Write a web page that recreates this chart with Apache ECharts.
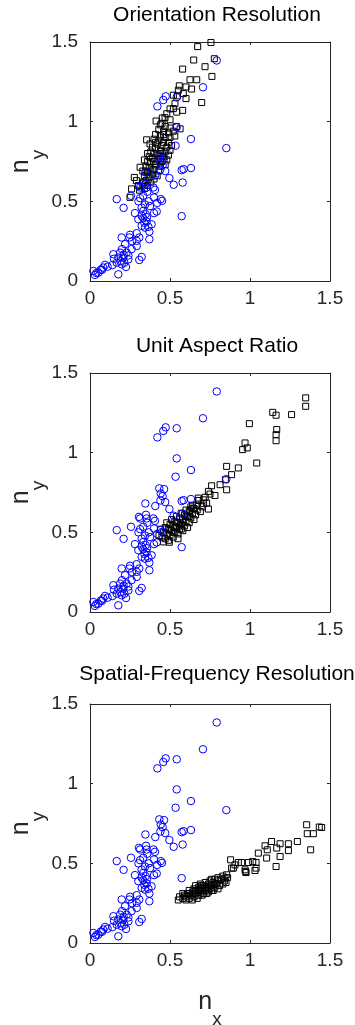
<!DOCTYPE html>
<html><head><meta charset="utf-8">
<script src="https://cdn.jsdelivr.net/npm/echarts@6/dist/echarts.min.js"></script>
<style>html,body{margin:0;padding:0;background:#fff}#c{width:355px;height:1025px}</style>
</head><body><div id="c"></div>
<script>
// ---- data ----
const panelTitles = ['Orientation Resolution', 'Unit Aspect Ratio', 'Spatial-Frequency Resolution'];
const axisMin = 0, axisMax = 1.5, axisStep = 0.5;
const tickLabels = ['0', '0.5', '1', '1.5'];

// blue circles (same in all panels)
const blueCircles = [
[0.792,1.384],[0.706,1.216],[0.473,1.159],[0.458,1.136],[0.421,1.096],[0.542,1.153],[0.542,0.964],[0.631,0.891],
[0.535,0.849],[0.852,0.834],[0.433,0.776],[0.463,0.771],[0.442,0.744],[0.454,0.727],[0.346,0.681],[0.408,0.665],
[0.573,0.696],[0.585,0.702],[0.631,0.709],[0.496,0.646],[0.579,0.618],[0.523,0.604],[0.306,0.597],[0.313,0.587],
[0.354,0.587],[0.396,0.587],[0.406,0.572],[0.256,0.535],[0.313,0.520],[0.333,0.535],[0.400,0.524],[0.442,0.514],
[0.450,0.503],[0.167,0.514],[0.210,0.459],[0.323,0.461],[0.333,0.440],[0.281,0.426],[0.348,0.419],[0.400,0.426],
[0.417,0.436],[0.302,0.388],[0.333,0.394],[0.354,0.373],[0.323,0.346],[0.385,0.356],[0.344,0.335],[0.573,0.407],
[0.371,0.310],[0.371,0.262],[0.198,0.273],[0.246,0.273],[0.308,0.273],[0.292,0.252],[0.219,0.231],[0.292,0.220],
[0.146,0.168],[0.188,0.178],[0.229,0.178],[0.177,0.147],[0.208,0.147],[0.240,0.136],[0.323,0.151],[0.308,0.132],
[0.167,0.115],[0.198,0.105],[0.225,0.088],[0.094,0.101],[0.083,0.084],[0.067,0.071],[0.052,0.052],[0.021,0.063],
[0.031,0.038],[0.177,0.042],[0.358,0.560],[0.367,0.500],[0.344,0.480],[0.375,0.470],[0.323,0.410],[0.356,0.400],
[0.340,0.365],[0.365,0.340],[0.303,0.500],[0.420,0.490],[0.292,0.300],[0.250,0.290],[0.263,0.250],[0.200,0.200],
[0.260,0.200],[0.210,0.165],[0.240,0.160],[0.150,0.140],[0.190,0.125],[0.110,0.090],[0.075,0.070],[0.040,0.050],
[0.140,0.100],[0.215,0.115],[0.350,0.610],[0.440,0.700],[0.470,0.690]
];

// black squares, panel 1
const orientationSquares = [
[0.756,1.497],[0.673,1.471],[0.648,1.387],[0.777,1.395],[0.719,1.345],[0.579,1.330],[0.762,1.284],[0.625,1.263],
[0.667,1.263],[0.558,1.225],[0.635,1.205],[0.698,1.120],[0.600,1.218],[0.552,1.197],[0.583,1.176],[0.600,1.145],
[0.546,1.162],[0.521,1.166],[0.531,1.113],[0.521,1.082],[0.579,1.071],[0.542,1.060],[0.469,1.025],[0.452,1.023],
[0.413,1.004],[0.500,1.012],[0.563,0.955],[0.540,0.970],
[0.44,0.98],[0.47,0.97],[0.50,0.96],[0.43,0.95],[0.46,0.94],[0.49,0.93],[0.52,0.94],[0.41,0.92],[0.44,0.91],
[0.47,0.90],[0.50,0.90],[0.53,0.91],[0.40,0.89],[0.43,0.88],[0.46,0.87],[0.49,0.87],[0.42,0.86],[0.45,0.85],
[0.48,0.84],[0.51,0.85],[0.39,0.84],[0.41,0.83],[0.44,0.82],[0.47,0.81],[0.50,0.82],[0.38,0.81],[0.40,0.80],
[0.43,0.79],[0.46,0.78],[0.49,0.79],[0.37,0.78],[0.39,0.77],[0.42,0.76],[0.45,0.75],[0.48,0.76],[0.36,0.75],
[0.38,0.74],[0.41,0.73],[0.44,0.72],[0.47,0.73],[0.35,0.72],[0.37,0.71],[0.40,0.70],[0.43,0.69],[0.36,0.68],
[0.39,0.67],[0.42,0.66],[0.34,0.66],[0.37,0.65],[0.40,0.64],[0.35,0.63],[0.38,0.62],[0.33,0.61],[0.36,0.60],
[0.34,0.58],[0.31,0.57],[0.42,0.80],[0.45,0.80],[0.41,0.87],[0.46,0.92],[0.44,0.77],[0.40,0.75],[0.38,0.69],
[0.35,0.69],[0.277,0.650],[0.260,0.578],[0.250,0.525],[0.302,0.599],[0.333,0.620],[0.313,0.714],[0.290,0.630],
[0.330,0.690],[0.340,0.760],[0.360,0.800],[0.354,0.886],[0.375,0.860],[0.48,1.05],[0.50,1.08],[0.45,0.99]
];

// black squares, panel 2
const aspectSquares = [
[1.348,1.344],[1.348,1.291],[1.260,1.239],[1.142,1.253],[1.163,1.235],[0.996,1.182],[1.167,1.145],[1.163,1.113],
[1.163,1.075],[0.969,1.061],[0.954,1.019],[0.983,1.030],[1.042,0.935],[0.854,0.914],[0.927,0.904],[0.885,0.862],
[0.846,0.830],[0.854,0.767],[0.813,0.799],[0.760,0.792],[0.740,0.757],[0.781,0.731],[0.729,0.684],[0.677,0.715],
[0.740,0.646],[0.708,0.704],[0.667,0.670],[0.646,0.650],[0.625,0.640],
[0.45,0.47],[0.47,0.46],[0.49,0.45],[0.46,0.50],[0.48,0.49],[0.50,0.48],[0.52,0.47],[0.47,0.53],[0.49,0.52],
[0.51,0.51],[0.53,0.50],[0.55,0.49],[0.48,0.56],[0.50,0.55],[0.52,0.54],[0.54,0.53],[0.56,0.52],[0.58,0.51],
[0.51,0.58],[0.53,0.57],[0.55,0.56],[0.57,0.55],[0.59,0.54],[0.61,0.53],[0.54,0.60],[0.56,0.59],[0.58,0.58],
[0.60,0.57],[0.62,0.56],[0.57,0.62],[0.59,0.61],[0.61,0.60],[0.63,0.59],[0.65,0.58],[0.60,0.64],[0.62,0.63],
[0.64,0.62],[0.66,0.61],[0.63,0.66],[0.65,0.65],[0.67,0.64],[0.69,0.63],[0.52,0.50],[0.54,0.56],[0.57,0.52],
[0.60,0.60],[0.50,0.52],[0.56,0.54],[0.53,0.53],[0.58,0.56],[0.44,0.52],[0.46,0.44],[0.431,0.48],[0.496,0.438],
[0.55,0.46],[0.62,0.60],[0.64,0.67],[0.70,0.66],[0.71,0.68],[0.68,0.70],[0.72,0.72],[0.75,0.74]
];

// black squares, panel 3
const spatialSquares = [
[1.354,0.742],[1.448,0.725],[1.358,0.686],[1.396,0.686],[1.433,0.728],[1.379,0.585],[1.296,0.637],[1.240,0.623],
[1.240,0.580],[1.188,0.623],[1.188,0.543],[1.135,0.637],[1.167,0.596],[1.094,0.610],[1.108,0.585],[1.104,0.533],
[1.052,0.564],[1.163,0.480],[0.879,0.522],[1.038,0.505],[0.927,0.505],[0.948,0.505],[0.990,0.505],[0.885,0.470],
[0.906,0.490],[0.969,0.459],[0.975,0.442],[1.031,0.455],[1.038,0.470],[0.854,0.428],[0.844,0.407],[1.017,0.511],
[0.896,0.470],[0.973,0.448],
[0.552,0.27],[0.58,0.28],[0.60,0.29],[0.62,0.28],[0.59,0.30],[0.61,0.31],[0.63,0.30],[0.65,0.29],[0.64,0.32],
[0.66,0.31],[0.68,0.30],[0.62,0.33],[0.65,0.34],[0.67,0.33],[0.69,0.32],[0.71,0.31],[0.66,0.36],[0.68,0.35],
[0.70,0.34],[0.72,0.33],[0.74,0.32],[0.69,0.37],[0.71,0.36],[0.73,0.35],[0.75,0.34],[0.77,0.33],[0.72,0.38],
[0.74,0.37],[0.76,0.36],[0.78,0.35],[0.80,0.34],[0.75,0.39],[0.77,0.38],[0.79,0.37],[0.81,0.36],[0.83,0.37],
[0.78,0.40],[0.80,0.39],[0.82,0.40],[0.84,0.39],[0.86,0.41],[0.83,0.42],[0.70,0.30],[0.73,0.31],[0.67,0.28],
[0.60,0.27],[0.64,0.27],[0.76,0.33],[0.68,0.33],[0.72,0.35],[0.74,0.34],[0.70,0.36],[0.66,0.33],[0.78,0.37],
[0.62,0.31],[0.58,0.31],[0.56,0.29],[0.80,0.41],[0.76,0.40],[0.85,0.38]
];

const panelSquares = [orientationSquares, aspectSquares, spatialSquares];

// ---- layout / style ----
const FONT = '"Liberation Sans", Arial, Helvetica, sans-serif';
const AX = '#262626';
const gridTops = [42, 373, 704];
const titleTops = [5, 336, 664];
const gridLeft = 90, gridW = 240, gridH = 239;

const grids = [], xAxes = [], yAxes = [], series = [], titles = [];
const fmt = v => tickLabels[Math.round((v - axisMin) / axisStep)] ?? String(v);
const nameRich = {
  a: {fontSize: 25, fontFamily: FONT, color: AX, lineHeight: 28, verticalAlign: 'top'},
  b: {fontSize: 19, fontFamily: FONT, color: AX, lineHeight: 16, verticalAlign: 'top', padding: [20, 0, 0, 0]}
};

panelSquares.forEach((sq, i) => {
  grids.push({left: gridLeft, top: gridTops[i], width: gridW, height: gridH, show: false,
    containLabel: false, outerBoundsMode: 'none'});
  const base = {
    type: 'value', gridIndex: i, min: axisMin, max: axisMax, interval: axisStep,
    splitLine: {show: false},
    axisLine: {show: true, onZero: false, lineStyle: {color: AX, width: 1}},
    axisTick: {show: true, inside: true, length: 3, lineStyle: {color: AX, width: 1}}
  };
  const lbl = {show: true, fontSize: 19, fontFamily: FONT, color: AX, formatter: fmt};
  const xb = Object.assign({}, base, {position: 'bottom', axisLabel: Object.assign({}, lbl, {margin: 8})});
  if (i === 2) {
    Object.assign(xb, {name: '{a|n}{b|x}', nameLocation: 'middle', nameGap: 47, nameMoveOverlap: false,
      nameTextStyle: {rich: nameRich}});
  }
  xAxes.push(xb);
  xAxes.push(Object.assign({}, base, {position: 'top', axisLabel: {show: false}}));
  yAxes.push(Object.assign({}, base, {position: 'left', axisLabel: Object.assign({}, lbl, {margin: 12}),
    name: '{a|n}{b|y}', nameLocation: 'middle', nameGap: 53, nameRotate: 90, nameMoveOverlap: false,
    nameTextStyle: {rich: nameRich}}));
  yAxes.push(Object.assign({}, base, {position: 'right', axisLabel: {show: false}}));

  series.push({
    type: 'scatter', xAxisIndex: 2 * i, yAxisIndex: 2 * i, data: sq,
    symbol: 'rect', symbolSize: 6, silent: true,
    itemStyle: {color: 'rgba(0,0,0,0)', borderColor: '#000000', borderWidth: 1, opacity: 1}
  });
  series.push({
    type: 'scatter', xAxisIndex: 2 * i, yAxisIndex: 2 * i, data: blueCircles,
    symbol: 'circle', symbolSize: 7.5, silent: true,
    itemStyle: {color: 'rgba(0,0,0,0)', borderColor: '#0000ff', borderWidth: 1, opacity: 1}
  });
  titles.push({
    text: panelTitles[i], left: 217, textAlign: 'center',
    top: titleTops[i], padding: 0,
    textStyle: {fontSize: 21, fontWeight: 'normal', fontFamily: FONT, color: '#000'}
  });
});

const chart = echarts.init(document.getElementById('c'), null, {renderer: 'canvas'});
chart.setOption({
  animation: false,
  backgroundColor: '#fff',
  title: titles,
  grid: grids,
  xAxis: xAxes,
  yAxis: yAxes,
  series: series
});
</script></body></html>
